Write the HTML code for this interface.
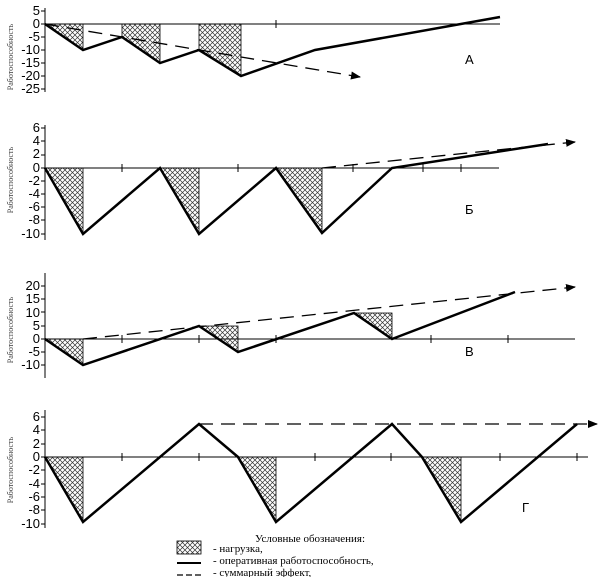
<!DOCTYPE html><html><head><meta charset="utf-8"><style>body{margin:0;background:#fff}svg{display:block}</style></head><body>
<svg width="600" height="577" xmlns="http://www.w3.org/2000/svg" font-family="Liberation Sans, sans-serif">
<defs>
<pattern id="h" width="5" height="5" patternUnits="userSpaceOnUse"><path d="M0,0L5,5M5,0L0,5" stroke="#333" stroke-width="0.7"/></pattern>
<marker id="ar" markerWidth="10" markerHeight="8" refX="9" refY="4" orient="auto" markerUnits="userSpaceOnUse"><path d="M0,0L10,4L0,8Z" fill="#000"/></marker>
</defs>
<g font-size="13" text-anchor="end" fill="#000">
<text x="40" y="15">5</text><text x="40" y="28">0</text><text x="40" y="41">-5</text><text x="40" y="54">-10</text><text x="40" y="67">-15</text><text x="40" y="80">-20</text><text x="40" y="93">-25</text>
<text x="40" y="132">6</text><text x="40" y="145">4</text><text x="40" y="158">2</text><text x="40" y="172">0</text><text x="40" y="185">-2</text><text x="40" y="198">-4</text><text x="40" y="211">-6</text><text x="40" y="224">-8</text><text x="40" y="238">-10</text>
<text x="40" y="290">20</text><text x="40" y="303">15</text><text x="40" y="317">10</text><text x="40" y="330">5</text><text x="40" y="343">0</text><text x="40" y="356">-5</text><text x="40" y="369">-10</text>
<text x="40" y="421">6</text><text x="40" y="434">4</text><text x="40" y="448">2</text><text x="40" y="461">0</text><text x="40" y="474">-2</text><text x="40" y="488">-4</text><text x="40" y="501">-6</text><text x="40" y="514">-8</text><text x="40" y="528">-10</text>
</g>
<g font-size="8" font-family="Liberation Serif, serif" fill="#444">
<text transform="translate(13,57) rotate(-90)" text-anchor="middle">Работоспособность</text>
<text transform="translate(13,180) rotate(-90)" text-anchor="middle">Работоспособность</text>
<text transform="translate(13,330) rotate(-90)" text-anchor="middle">Работоспособность</text>
<text transform="translate(13,470) rotate(-90)" text-anchor="middle">Работоспособность</text>
</g>
<g font-size="13"><text x="465" y="64">А</text><text x="465" y="214">Б</text><text x="465" y="356">В</text><text x="522" y="512">Г</text></g>
<g stroke="#000" stroke-width="1" fill="none">
<path d="M45,8V92M41,11H45M41,24H45M41,37H45M41,50H45M41,63H45M41,76H45M41,89H45M45,24H500M276,20V28"/>
<path d="M45,125V240M41,128H45M41,141H45M41,155H45M41,168H45M41,181H45M41,194H45M41,207H45M41,220H45M41,234H45M45,168H499M353,164V172M423,164V172M461,164V172M122,164V172M238,164V172"/>
<path d="M45,273V378M41,286H45M41,299H45M41,312H45M41,326H45M41,339H45M41,352H45M41,365H45M45,339H575M122,335V343M199,335V343M276,335V343M431,335V343M508,335V343"/>
<path d="M45,410V528M41,417H45M41,430H45M41,444H45M41,457H45M41,470H45M41,484H45M41,497H45M41,510H45M41,524H45M45,457H588M122,453V461M199,453V461M315,453V461M391,453V461M500,453V461M577,453V461"/>
</g>
<g fill="url(#h)" stroke="#000" stroke-width="0.8">
<path d="M45,24L83,24L83,50Z"/><path d="M122,24L160,24L160,63L122,37Z"/><path d="M199,24L241,24L241,76L199,50Z"/>
<path d="M45,168L83,168L83,234Z"/><path d="M160,168L199,168L199,234Z"/><path d="M276,168L322,168L322,233Z"/>
<path d="M45,339L83,339L83,365Z"/><path d="M199,326L238,326L238,352Z"/><path d="M354,313L392,313L392,339Z"/>
<path d="M45,457L83,457L83,522Z"/><path d="M238,457L276,457L276,522Z"/><path d="M422,457L461,457L461,522Z"/>
</g>
<g stroke="#000" stroke-width="2.5" fill="none">
<path d="M45,24L83,50L122,37L160,63L199,50L241,76L315,50L500,17"/>
<path d="M45,168L83,234L160,168L199,234L276,168L322,233L392,168L548,144"/>
<path d="M45,339L83,365L199,326L238,352L354,313L392,339L515,292"/>
<path d="M45,457L83,522L199,424L238,457L276,522L392,424L422,457L461,522L577,424"/>
</g>
<g stroke="#000" stroke-width="1.3" fill="none" stroke-dasharray="14,8">
<path d="M45,24L360,77" marker-end="url(#ar)"/>
<path d="M322,168L575,142" marker-end="url(#ar)"/>
<path d="M83,339L575,287" marker-end="url(#ar)"/>
<path d="M199,424L597,424" marker-end="url(#ar)"/>
</g>
<g font-family="Liberation Serif, serif" font-size="11" fill="#000">
<text x="255" y="542">Условные обозначения:</text>
<rect x="177" y="541" width="24" height="13" fill="url(#h)" stroke="#000" stroke-width="0.8"/>
<text x="213" y="552">- нагрузка,</text>
<path d="M177,563H201" stroke="#000" stroke-width="2"/>
<text x="213" y="564">- оперативная работоспособность,</text>
<path d="M177,575H201" stroke="#000" stroke-width="1.2" stroke-dasharray="6,3"/>
<text x="213" y="576">- суммарный эффект,</text>
</g>
</svg></body></html>
